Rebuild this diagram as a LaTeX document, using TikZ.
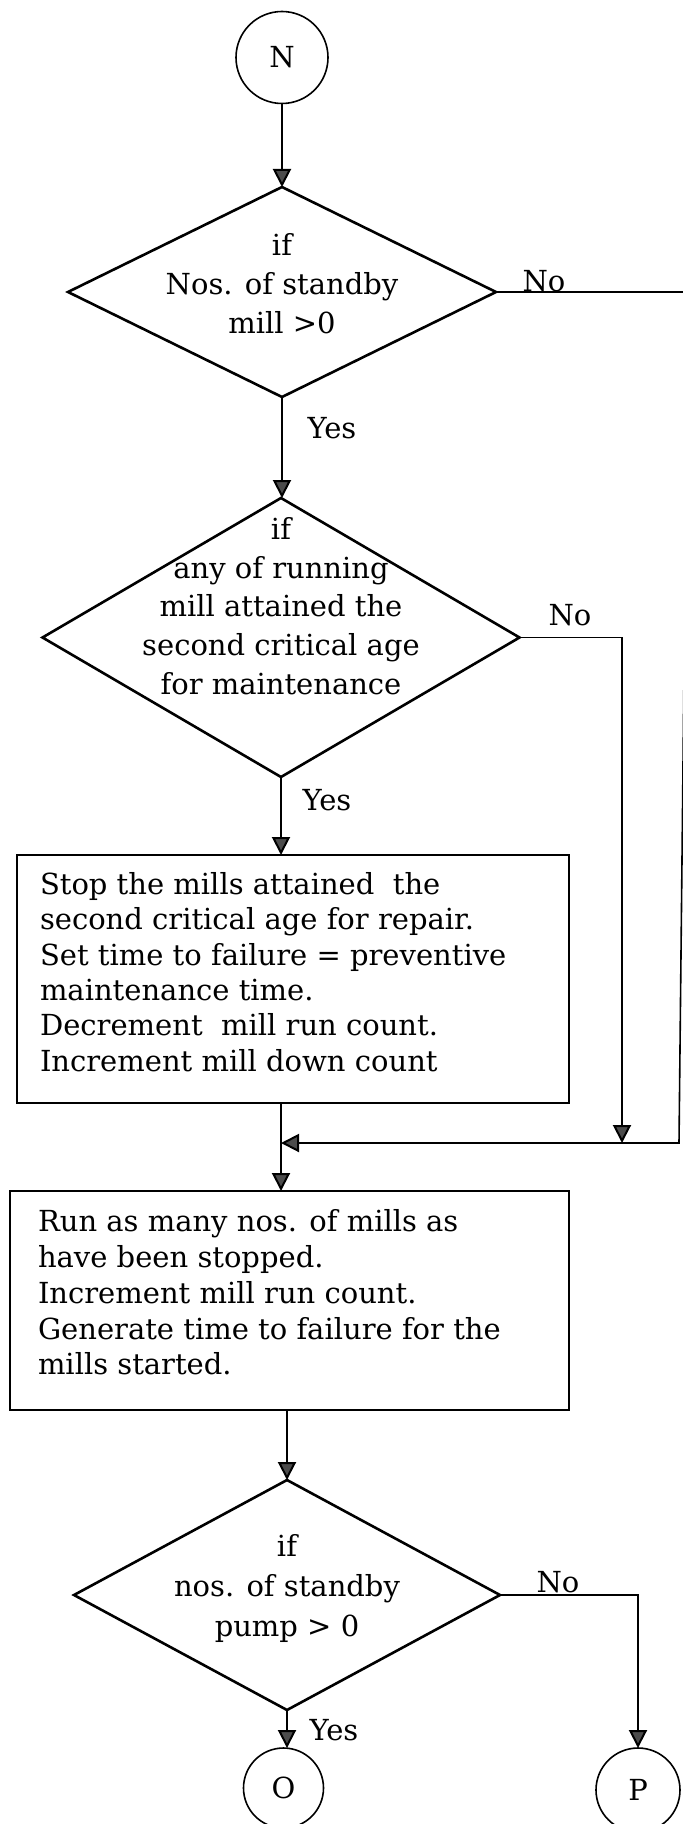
\documentclass[tikz,border=0pt]{standalone}
\usepackage{fontspec}
\setmainfont{DejaVu Serif}
\usetikzlibrary{shapes.geometric,arrows.meta}

\begin{document}
\begin{tikzpicture}[x=0.5pt,y=-0.5pt,
  every node/.style={inner sep=0pt, outer sep=0pt},
  txt/.style={font=\fontsize{14.5}{#1}\selectfont},
  txt/.default=18.7,
  term/.style={circle, draw, line width=0.8pt, minimum size=#1, txt},
  decision/.style 2 args={diamond, draw, line width=1.3pt,
    minimum width=#1, minimum height=#2},
  stepbox/.style 2 args={rectangle, draw, line width=1pt,
    minimum width=#1, minimum height=#2},
  steptext/.style={align=left, anchor=west, txt=#1},
  flow/.style={draw, line width=0.8pt,
    -{Triangle[width=9pt, length=9pt, line width=1pt, fill=black!70]}},
]
\useasboundingbox (0,0) rectangle (683,1824);

% start connector
\node[term=46pt] (N) at (282,57.5) {N};

% first test: standby mills
\node[decision={214pt}{105pt}] (d1) at (282,292) {};
\node[txt=19.5, align=center] (d1t) at (282,284) {if\\Nos. of standby\\mill >0};

% second test: critical age
\node[decision={238.5pt}{139.5pt}] (d2) at (281,637.5) {};
\node[txt=19.4, align=center] (d2t) at (281,606)
  {if\\any of running\\mill attained the\\second critical age\\for maintenance};

% stop mills for preventive maintenance
\node[stepbox={276pt}{124pt}] (b1) at (293,979) {};
\node[steptext=17.65] (b1t) at (40,972)
  {Stop the mills attained\ \ the\\
   second critical age for repair.\\
   Set time to failure = preventive\\
   maintenance time.\\
   Decrement\ \ mill run count.\\
   Increment mill down count};

% restart mills
\node[stepbox={279.5pt}{109.5pt}] (b2) at (289.5,1300.5) {};
\node[steptext=17.9] (b2t) at (38,1292.5)
  {Run as many nos. of mills as\\
   have been stopped.\\
   Increment mill run count.\\
   Generate time to failure for the\\
   mills started.};

% third test: standby pumps
\node[decision={213pt}{115pt}] (d3) at (287,1595) {};
\node[txt=20, align=center] (d3t) at (287,1588)
  {if\\nos. of standby\\pump > 0};

% off-page connectors
\node[term=40pt] (O) at (283.5,1788) {O};
\node[term=42pt] (P) at (638,1790) {P};

% routing points
\coordinate (merge) at (281,1143);
\coordinate (edgetop) at (688,292);
\coordinate (edgebot) at (679,1143);
\coordinate (dn) at (622,1143);

% flow lines
\draw[flow] (N.south) -- (N.south |- d1.north);
\draw[flow] (d1.south) -- (d1.south |- d2.north);
\draw[flow] (d2.south) -- (d2.south |- b1.north);
\draw[flow] (d1.east) -- (edgetop) -- (edgebot) -- (merge);
\draw[flow] (d2.east) -- (d2.east -| dn) -- (dn);
\draw[flow] (b1.south -| merge) -- (b2.north -| merge);
\draw[flow] (b2.south -| d3.north) -- (d3.north);
\draw[flow] (d3.south) -- (d3.south |- O.north);
\draw[flow] (d3.east) -- (d3.east -| P.north) -- (P.north);

% branch labels
\node[txt] (no1) at (544,281) {No};
\node[txt] (yes1) at (332,428) {Yes};
\node[txt] (no2) at (570,615) {No};
\node[txt] (yes2) at (327,800) {Yes};
\node[txt] (no3) at (558,1582) {No};
\node[txt] (yes3) at (334,1730) {Yes};
\end{tikzpicture}
\end{document}
